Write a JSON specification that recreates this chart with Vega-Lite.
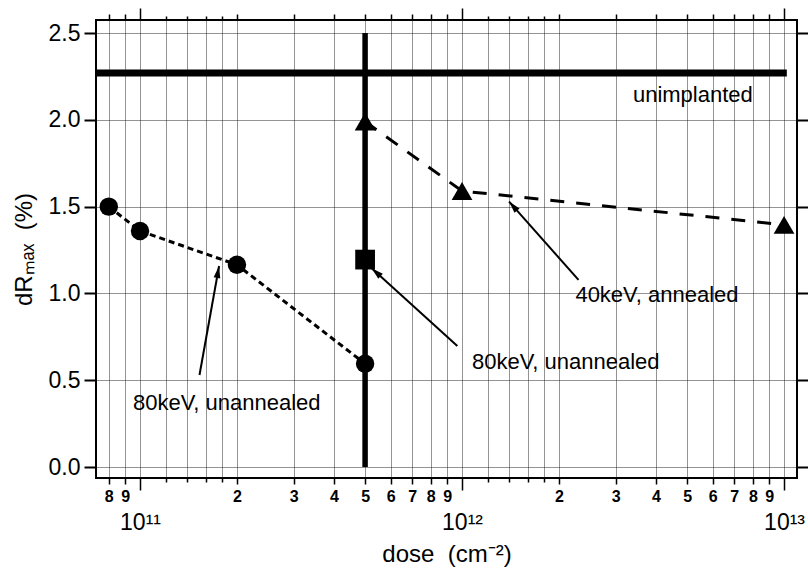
{
  "$schema": "https://vega.github.io/schema/vega-lite/v6.json",
  "width": 701,
  "height": 458,
  "autosize": "none",
  "padding": {"left": 96, "top": 20, "right": 11, "bottom": 91},
  "background": "white",
  "config": {
    "view": {"stroke": "black", "strokeWidth": 2},
    "font": "Liberation Sans",
    "axis": {"labelFont": "Liberation Sans", "titleFont": "Liberation Sans", "labelColor": "black", "titleColor": "black", "tickColor": "black", "titleFontWeight": "normal"}
  },
  "datasets": {
    "circles": [
      {"dose": 8e10, "dR": 1.5},
      {"dose": 1e11, "dR": 1.36},
      {"dose": 2e11, "dR": 1.165},
      {"dose": 5e11, "dR": 0.595}
    ],
    "triangles": [
      {"dose": 5e11, "dR": 1.99},
      {"dose": 1e12, "dR": 1.59},
      {"dose": 1e13, "dR": 1.395}
    ],
    "square": [
      {"dose": 5e11, "dR": 1.195}
    ],
    "hline": [
      {"dose": 7.35e10, "dose2": 1.02e13, "dR": 2.27}
    ],
    "vline": [
      {"dose": 5e11, "dR": 0, "dR2": 2.5}
    ],
    "arrows": [
      {"id": "a40", "dose": 2.30e12, "dR": 1.078, "dose2": 1.40e12, "dR2": 1.529},
      {"id": "a80r", "dose": 9.67e11, "dR": 0.697, "dose2": 5.24e11, "dR2": 1.145},
      {"id": "a80l", "dose": 1.53e11, "dR": 0.53, "dose2": 1.76e11, "dR2": 1.158}
    ],
    "labels": [
      {"text": "unimplanted", "dose": 5.21e12, "dR": 2.144},
      {"text": "40keV, annealed", "dose": 4.03e12, "dR": 0.991},
      {"text": "80keV, unannealed", "dose": 2.10e12, "dR": 0.605},
      {"text": "80keV, unannealed", "dose": 1.86e11, "dR": 0.369}
    ]
  },
  "resolve": {"axis": {"x": "independent", "y": "independent"}},
  "layer": [
    {
      "data": {"name": "vline"},
      "mark": {"type": "rule", "color": "black", "strokeWidth": 5.5},
      "encoding": {
        "x": {
          "field": "dose", "type": "quantitative",
          "scale": {"type": "log", "domain": [7.3e10, 1.097e13], "nice": false},
          "axis": {
            "orient": "top", "labels": false, "grid": false, "domain": false, "title": null,
            "values": [8e10, 9e10, 1e11, 1.2e11, 1.4e11, 1.6e11, 1.8e11, 2e11, 3e11, 4e11, 5e11, 6e11, 7e11, 8e11, 9e11, 1e12, 1.2e12, 1.4e12, 1.6e12, 1.8e12, 2e12, 3e12, 4e12, 5e12, 6e12, 7e12, 8e12, 9e12, 1e13],
            "tickWidth": 1.5,
            "tickSize": {"condition": [
              {"test": "abs(log(datum.value)/LN10 - round(log(datum.value)/LN10)) < 0.001", "value": 12},
              {"test": "datum.value/pow(10, floor(log(datum.value)/LN10 + 0.000001)) < 1.9", "value": 4}
            ], "value": 6}
          }
        },
        "y": {
          "field": "dR", "type": "quantitative",
          "scale": {"domain": [-0.063, 2.575], "nice": false, "zero": false},
          "axis": {"orient": "right", "labels": false, "grid": false, "domain": false, "title": null,
            "values": [0, 0.5, 1, 1.5, 2, 2.5], "tickSize": 11, "tickWidth": 2}
        },
        "y2": {"field": "dR2"}
      }
    },
    {
      "layer": [
        {
          "data": {"name": "hline"},
          "mark": {"type": "rule", "color": "black", "strokeWidth": 7},
          "encoding": {
            "x": {
              "field": "dose", "type": "quantitative",
              "scale": {"type": "log", "domain": [7.3e10, 1.097e13], "nice": false},
              "axis": {
                "orient": "bottom",
                "title": "dose\u00a0 (cm⁻²)", "titleFontSize": 24, "titlePadding": 8,
                "domain": false, "grid": true,
                "gridColor": "#111", "gridDash": [1, 1], "gridWidth": 1, "gridOpacity": 0.9,
                "values": [8e10, 9e10, 1e11, 1.2e11, 1.4e11, 1.6e11, 1.8e11, 2e11, 3e11, 4e11, 5e11, 6e11, 7e11, 8e11, 9e11, 1e12, 1.2e12, 1.4e12, 1.6e12, 1.8e12, 2e12, 3e12, 4e12, 5e12, 6e12, 7e12, 8e12, 9e12, 1e13],
                "labelExpr": "abs(datum.value-1e11) < 1e8 ? '10¹¹' : abs(datum.value-1e12) < 1e9 ? '10¹²' : abs(datum.value-1e13) < 1e10 ? '10¹³' : (datum.value/pow(10, floor(log(datum.value)/LN10 + 0.000001)) > 1.9 ? format(round(datum.value/pow(10, floor(log(datum.value)/LN10 + 0.000001))), 'd') : '')",
                "labelOverlap": false, "labelFlush": false, "labelBound": false,
                "tickWidth": 1.5,
                "tickSize": {"condition": [
                  {"test": "abs(log(datum.value)/LN10 - round(log(datum.value)/LN10)) < 0.001", "value": 12},
                  {"test": "datum.value/pow(10, floor(log(datum.value)/LN10 + 0.000001)) < 1.9", "value": 4}
                ], "value": 6},
                "labelFontSize": {"condition": {"test": "abs(log(datum.value)/LN10 - round(log(datum.value)/LN10)) < 0.001", "value": 23}, "value": 16},
                "labelFontWeight": {"condition": {"test": "abs(log(datum.value)/LN10 - round(log(datum.value)/LN10)) < 0.001", "value": "normal"}, "value": "bold"},
                "labelPadding": {"condition": {"test": "abs(log(datum.value)/LN10 - round(log(datum.value)/LN10)) < 0.001", "value": 21}, "value": 4}
              }
            },
            "x2": {"field": "dose2"},
            "y": {
              "field": "dR", "type": "quantitative",
              "scale": {"domain": [-0.063, 2.575], "nice": false, "zero": false},
              "axis": {
                "orient": "left",
                "title": "dRₘₐₓ\u00a0 (%)", "titleFontSize": 24, "titlePadding": 12,
                "values": [0, 0.5, 1, 1.5, 2, 2.5], "format": ".1f",
                "labelFontSize": 23, "labelPadding": 4,
                "tickSize": 12, "tickWidth": 2, "domain": false,
                "grid": true, "gridColor": "#111", "gridDash": [1, 1], "gridWidth": 1, "gridOpacity": 0.9
              }
            }
          }
        },
        {
          "data": {"name": "circles"},
          "mark": {"type": "line", "color": "black", "strokeWidth": 3, "strokeDash": [6, 4]},
          "encoding": {
            "x": {"field": "dose", "type": "quantitative"},
            "y": {"field": "dR", "type": "quantitative"}
          }
        },
        {
          "data": {"name": "triangles"},
          "mark": {"type": "line", "color": "black", "strokeWidth": 3, "strokeDash": [14, 12]},
          "encoding": {
            "x": {"field": "dose", "type": "quantitative"},
            "y": {"field": "dR", "type": "quantitative"}
          }
        },
        {
          "data": {"name": "arrows"},
          "mark": {"type": "rule", "color": "black", "strokeWidth": 2},
          "encoding": {
            "x": {"field": "dose", "type": "quantitative"},
            "y": {"field": "dR", "type": "quantitative"},
            "x2": {"field": "dose2"},
            "y2": {"field": "dR2"}
          }
        },
        {
          "data": {"name": "arrows"},
          "transform": [{"filter": "datum.id == 'a40'"}],
          "mark": {"type": "point", "filled": true, "color": "black", "opacity": 1, "size": 576, "angle": -41.4, "shape": "M0,0L0.28,1L-0.28,1Z", "strokeWidth": 0},
          "encoding": {
            "x": {"field": "dose2", "type": "quantitative"},
            "y": {"field": "dR2", "type": "quantitative"}
          }
        },
        {
          "data": {"name": "arrows"},
          "transform": [{"filter": "datum.id == 'a80r'"}],
          "mark": {"type": "point", "filled": true, "color": "black", "opacity": 1, "size": 576, "angle": -47.8, "shape": "M0,0L0.28,1L-0.28,1Z", "strokeWidth": 0},
          "encoding": {
            "x": {"field": "dose2", "type": "quantitative"},
            "y": {"field": "dR2", "type": "quantitative"}
          }
        },
        {
          "data": {"name": "arrows"},
          "transform": [{"filter": "datum.id == 'a80l'"}],
          "mark": {"type": "point", "filled": true, "color": "black", "opacity": 1, "size": 576, "angle": 10.2, "shape": "M0,0L0.28,1L-0.28,1Z", "strokeWidth": 0},
          "encoding": {
            "x": {"field": "dose2", "type": "quantitative"},
            "y": {"field": "dR2", "type": "quantitative"}
          }
        },
        {
          "data": {"name": "circles"},
          "mark": {"type": "point", "shape": "circle", "filled": true, "color": "black", "opacity": 1, "size": 340},
          "encoding": {
            "x": {"field": "dose", "type": "quantitative"},
            "y": {"field": "dR", "type": "quantitative"}
          }
        },
        {
          "data": {"name": "triangles"},
          "mark": {"type": "point", "shape": "triangle-up", "filled": true, "color": "black", "opacity": 1, "size": 430},
          "encoding": {
            "x": {"field": "dose", "type": "quantitative"},
            "y": {"field": "dR", "type": "quantitative"}
          }
        },
        {
          "data": {"name": "square"},
          "mark": {"type": "point", "shape": "square", "filled": true, "color": "black", "opacity": 1, "size": 390},
          "encoding": {
            "x": {"field": "dose", "type": "quantitative"},
            "y": {"field": "dR", "type": "quantitative"}
          }
        },
        {
          "data": {"name": "labels"},
          "mark": {"type": "text", "font": "Liberation Sans", "fontSize": 22, "color": "black", "align": "center", "baseline": "middle"},
          "encoding": {
            "x": {"field": "dose", "type": "quantitative"},
            "y": {"field": "dR", "type": "quantitative"},
            "text": {"field": "text"}
          }
        }
      ]
    }
  ]
}
